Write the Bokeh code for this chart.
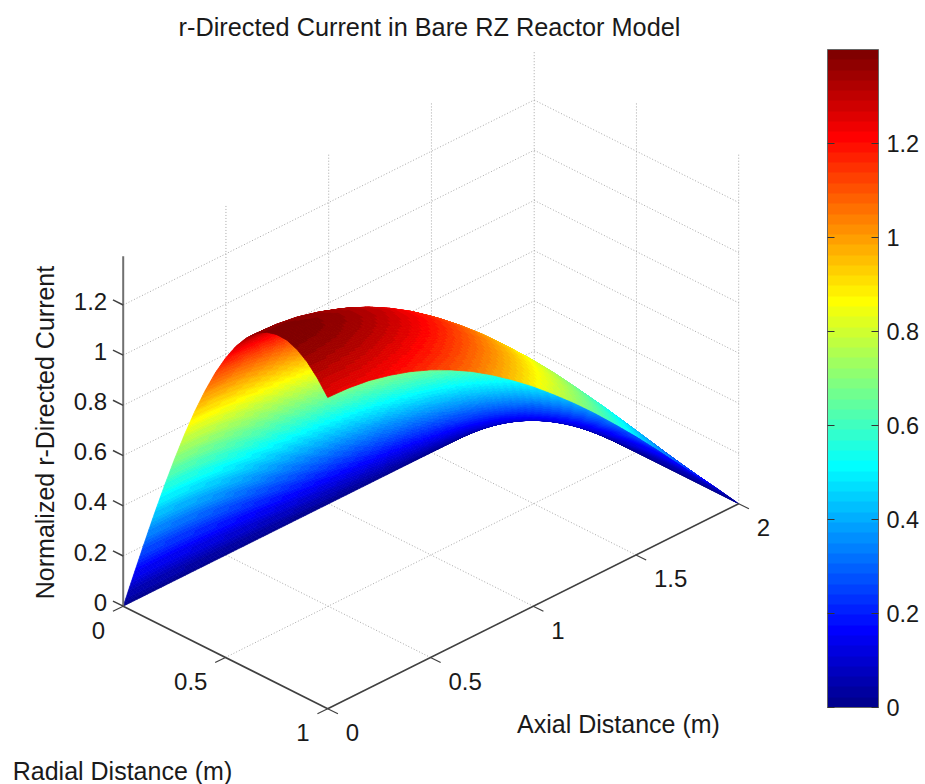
import numpy as np
from bokeh.plotting import figure
from bokeh.models import Range1d, LinearColorMapper, ColorBar, FixedTicker
from bokeh.core.properties import value
from bokeh.embed import file_html
from bokeh.resources import INLINE

# ---- data -----------------------------------------------------------------
title = "r-Directed Current in Bare RZ Reactor Model"
radial_label = "Radial Distance (m)"
axial_label = "Axial Distance (m)"
height_label = "Normalized r-Directed Current"

radial_ticks = [0, 0.5, 1]
axial_ticks = [0, 0.5, 1, 1.5, 2]
height_ticks = [0, 0.2, 0.4, 0.6, 0.8, 1, 1.2]
colorbar_ticks = [0, 0.2, 0.4, 0.6, 0.8, 1, 1.2]
height_max = 1.394
colorbar_max = 1.4

radial_stations = [0, .05, .1, .15, .2, .25, .3, .35, .4, .45, .5, .55, .6, .65, .7, .75, .8, .85, .9, .95, 1]
# height along the z = 0 edge
radial_profile = [0, .143, .285, .424, .558, .686, .807, .919, 1.021, 1.113, 1.192, 1.259, 1.312,
                  1.352, 1.378, 1.389, 1.387, 1.370, 1.340, 1.296, 1.240]
axial_stations = [0, .1, .2, .3, .4, .5, .6, .7, .8, .9, 1, 1.1, 1.2, 1.3, 1.4, 1.5, 1.6, 1.7, 1.8, 1.9, 2]
# share of that height left at each axial station
axial_profile = [1, .997, .988, .972, .951, .924, .891, .853, .809, .760, .707, .649, .588,
                 .523, .454, .383, .309, .233, .156, .079, 0]

# ---- view ------------------------------------------------------------------
def project(r, z, h):
    r, z, h = np.asarray(r, float), np.asarray(z, float), np.asarray(h, float)
    return 122.7 + 204.5 * r + 205.5 * z, 605.7 + 102.5 * r - 102.5 * z - 251.0 * h

def toward_viewer(r, z, h):
    return 0.612 * (r - z) + 0.5 * h

def jet(n):
    out = []
    for i in range(n):
        x = (i + 1) / n
        c = [min(4 * x - 1.5, -4 * x + 4.5), min(4 * x - 0.5, -4 * x + 3.5), min(4 * x + 0.5, -4 * x + 2.5)]
        c = [int(round(255 * max(0, min(1, v)))) for v in c]
        out.append("#%02x%02x%02x" % tuple(c))
    return out

palette = jet(64)
W, H = 925, 784
p = figure(width=W, height=H, output_backend="svg", toolbar_location=None,
           x_range=Range1d(0, W), y_range=Range1d(H, 0), min_border=0,
           x_axis_type=None, y_axis_type=None)
p.outline_line_color = None
p.grid.visible = False

# ---- dotted walls and floor -------------------------------------------------
gx, gy = [], []
def grid(a, b):
    x, y = project(*a), project(*b)
    gx.append([float(x[0]), float(y[0])]); gy.append([float(x[1]), float(y[1])])

top = height_max
for h in height_ticks:
    grid((0, 0, h), (0, 2, h))
    grid((0, 2, h), (1, 2, h))
for z in axial_ticks[1:]:
    grid((0, z, 0), (0, z, top))
    grid((0, z, 0), (1, z, 0))
for r in radial_ticks[1:]:
    grid((r, 2, 0), (r, 2, top))
    grid((r, 0, 0), (r, 2, 0))
p.multi_line(gx, gy, line_color="#a8a8a8", line_dash="1 2", line_width=1)

# ---- surface: each table facet is shaded in fine steps, far facets first ----
heights = np.outer(radial_profile, axial_profile)
rs, zs = np.array(radial_stations), np.array(axial_stations)
SR, SZ = 8, 6
rf = np.interp(np.arange(0, (len(rs) - 1) * SR + 1) / SR, np.arange(len(rs)), rs)
zf = np.interp(np.arange(0, (len(zs) - 1) * SZ + 1) / SZ, np.arange(len(zs)), zs)
hf = np.array([np.interp(zf, zs, row) for row in heights])
hf = np.array([np.interp(rf, rs, col) for col in hf.T]).T
RR, ZZ = np.meshgrid(rf, zf, indexing="ij")
PX, PY = project(RR, ZZ, hf)

xs, ys, cols, depth = [], [], [], []
for i in range(len(rf) - 1):
    for j in range(len(zf) - 1):
        idx = [(i, j), (i + 1, j), (i + 1, j + 1), (i, j + 1)]
        xs.append([round(float(PX[k]), 2) for k in idx])
        ys.append([round(float(PY[k]), 2) for k in idx])
        hm = np.mean([hf[k] for k in idx])
        cols.append(palette[min(63, int(hm / height_max * 64))])
        depth.append(toward_viewer(np.mean([RR[k] for k in idx]), np.mean([ZZ[k] for k in idx]), hm))
order = np.argsort(depth)
p.patches([xs[i] for i in order], [ys[i] for i in order],
          fill_color=[cols[i] for i in order], line_color=[cols[i] for i in order], line_width=0.7)

# ---- solid axes and ticks ---------------------------------------------------
def seg3(a, b, color, width):
    xa, ya = project(*a); xb, yb = project(*b)
    p.line([float(xa), float(xb)], [float(ya), float(yb)], line_color=color, line_width=width)

seg3((0, 0, 0), (0, 0, top), "#707070", 2)
seg3((0, 0, 0), (1, 0, 0), "#404040", 1.6)
seg3((1, 0, 0), (1, 2, 0), "#404040", 1.6)
for h in height_ticks:
    seg3((0, 0, h), (-0.05, 0, h), "#404040", 1.5)
for r in radial_ticks:
    seg3((r, 0, 0), (r, -0.05, 0), "#404040", 1.2)
for z in axial_ticks:
    seg3((1, z, 0), (1.05, z, 0), "#404040", 1.2)

# ---- texts --------------------------------------------------------------------
font = value("Liberation Sans")
def label(x, y, s, size="24px", align="center", angle=0):
    p.text([x], [y], text=[s], text_font=font, text_font_size=size, text_align=align,
           text_baseline="middle", text_color="#1a1a1a", angle=angle)

def fmt(v):
    return ("%g" % v)

for h in height_ticks:
    x, y = project(0, 0, h)
    label(float(x) - 16, float(y) - 4, fmt(h), align="right")
for r in radial_ticks:
    x, y = project(r, 0, 0)
    label(float(x) - 18, float(y) + 24, fmt(r), align="right")
for z in axial_ticks:
    x, y = project(1, z, 0)
    label(float(x) + 18, float(y) + 24, fmt(z), align="left")

label(429, 26, title, size="25.3px")
label(122, 770, radial_label, size="25px")
label(618, 723, axial_label, size="25px")
label(44, 432, height_label, size="25px", angle=np.pi / 2)

# ---- colour bar ---------------------------------------------------------------
bar_left, bar_right, bar_top, bar_bottom = 827, 878, 49, 707
mapper = LinearColorMapper(palette=palette, low=0, high=colorbar_max)
cb = ColorBar(color_mapper=mapper, location=(bar_left, H - bar_bottom),
              width=bar_right - bar_left, height=bar_bottom - bar_top, padding=0,
              ticker=FixedTicker(ticks=colorbar_ticks),
              major_label_overrides={t: fmt(t) for t in colorbar_ticks},
              major_label_text_font="Liberation Sans", major_label_text_font_size="23.5px",
              major_label_text_color="#1a1a1a", label_standoff=8,
              major_tick_in=7, major_tick_line_color="#333333", major_tick_line_width=1,
              bar_line_color="#666666", border_line_color=None, background_fill_alpha=0)
p.add_layout(cb)
for t in colorbar_ticks:
    y = bar_bottom - t / colorbar_max * (bar_bottom - bar_top)
    p.line([bar_left, bar_left + 7], [y, y], line_color="#333333", line_width=1, level="overlay")

open("out.html", "w").write(file_html(p, INLINE))
